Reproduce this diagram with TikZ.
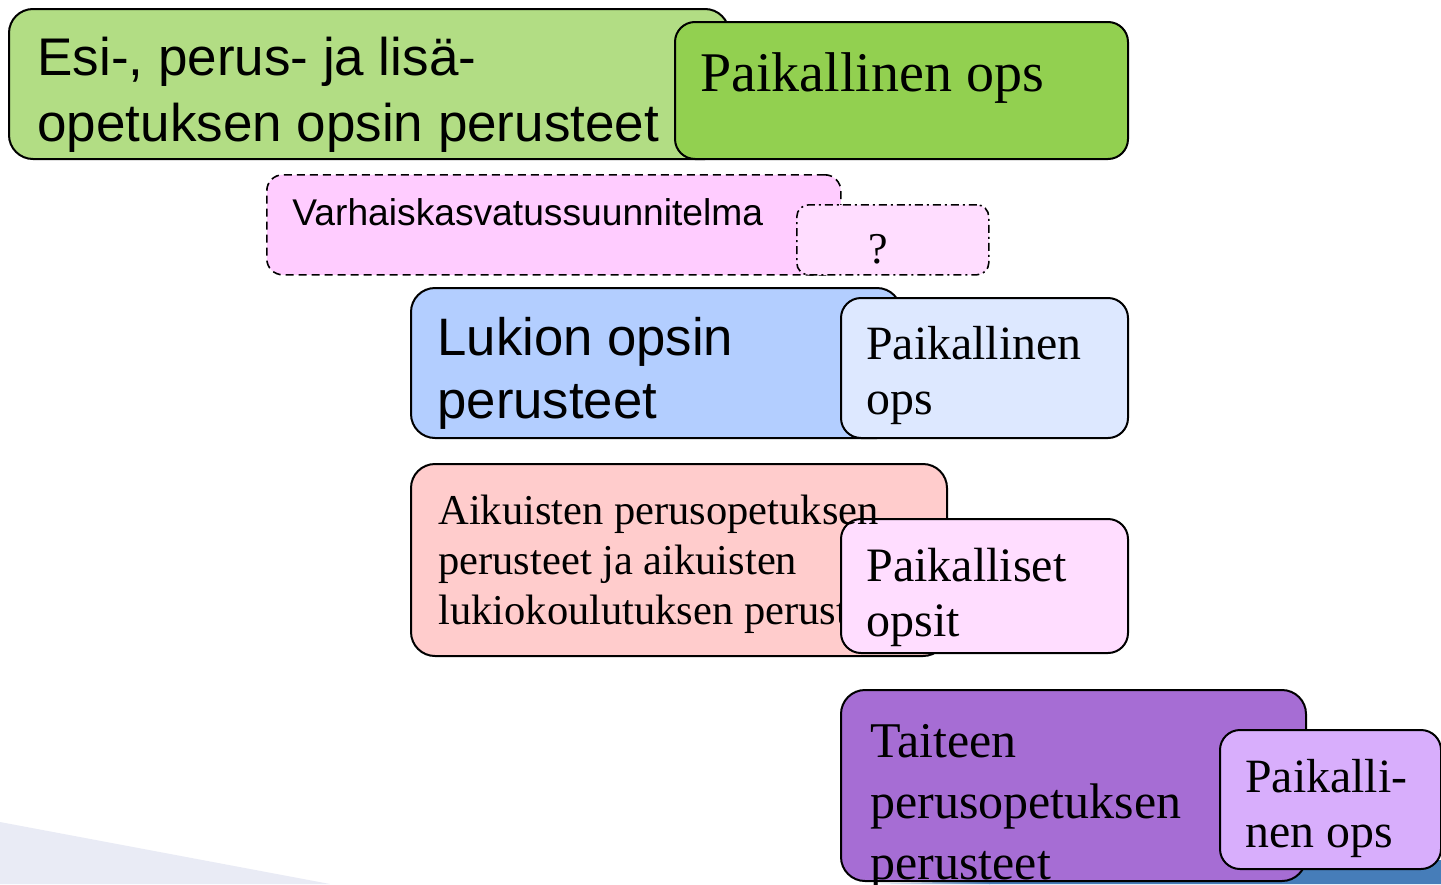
\documentclass[tikz,border=0pt]{standalone}
\usepackage{fontspec}
\setmainfont{Liberation Serif}
\setsansfont{Liberation Sans}
\usetikzlibrary{positioning}
\definecolor{cgA}{HTML}{B2DD84}
\definecolor{cgB}{HTML}{92D050}
\definecolor{cpA}{HTML}{FFCCFF}
\definecolor{cpB}{HTML}{FFDDFF}
\definecolor{cbA}{HTML}{B3CEFF}
\definecolor{cbB}{HTML}{DDE8FF}
\definecolor{csal}{HTML}{FFCCCC}
\definecolor{cuA}{HTML}{A66DD4}
\definecolor{cuB}{HTML}{D8AEFC}
\definecolor{cband}{HTML}{467DB9}
\definecolor{cwedge}{HTML}{E9EBF5}
\newcommand{\mlines}[1]{\begin{tabular}[t]{@{}l@{}}#1\end{tabular}}
\newcommand{\fsz}[2]{\fontsize{#1}{#2}\selectfont}
\begin{document}
\begin{tikzpicture}[x=0.5pt,y=-0.5pt,
  box/.style={draw=black, line width=1pt, rounded corners=12pt, inner sep=0pt, anchor=north west},
  sbox/.style={box, rounded corners=10pt},
  lbl/.style={inner sep=0pt, anchor=base west, text=black}]
\useasboundingbox (0,0) rectangle (1441,884);
% background decorations
\fill[cwedge] (0,822) -- (330,884) -- (0,884) -- cycle;
\shade[left color=white, right color=cband] (860,884) .. controls (900,883) and (940,882) .. (990,881) -- (990,884) -- cycle;
\fill[cband] (989,881) .. controls (1150,876) and (1300,866) .. (1441,860) -- (1441,884) -- (989,884) -- cycle;
% row 1
\node[box, fill=cgA, minimum width=360pt, minimum height=75pt] (b1) at (8,8) {};
\node[lbl, font=\sffamily\fsz{26.5pt}{33pt}] (t1) at (37,75) {\mlines{Esi-, perus- ja lisä-\\opetuksen opsin perusteet}};
\node[sbox, fill=cgB, minimum width=226.5pt, minimum height=68.5pt] (b2) at (674,21) {};
\node[lbl, font=\fsz{28pt}{33pt}] (t2) at (700,91) {Paikallinen ops};
% row 2
\node[box, fill=cpA, dash pattern=on 4pt off 2.5pt, line width=0.8pt, rounded corners=8pt, minimum width=287pt, minimum height=50pt] (b3) at (266,174) {};
\node[lbl, font=\sffamily\fsz{18.6pt}{22pt}] (t3) at (292,225) {Varhaiskasvatussuunnitelma};
\node[box, fill=cpB, dash pattern=on 4pt off 2pt on 1pt off 2pt, line width=0.8pt, rounded corners=6pt, minimum width=96pt, minimum height=35pt] (b4) at (796,204) {};
\node[inner sep=0pt, anchor=base, font=\fsz{22pt}{26pt}] (t4) at (878,263) {?};
% row 3
\node[box, fill=cbA, minimum width=245pt, minimum height=75pt] (b5) at (410,287) {};
\node[lbl, font=\sffamily\fsz{26.35pt}{31.5pt}] (t5) at (437,355) {\mlines{Lukion opsin\\perusteet}};
\node[sbox, fill=cbB, minimum width=143.5pt, minimum height=70pt] (b6) at (840,297) {};
\node[lbl, font=\fsz{23.9pt}{27.5pt}] (t6) at (866,359) {\mlines{Paikallinen\\ops}};
% row 4
\node[box, fill=csal, minimum width=268pt, minimum height=96pt] (b7) at (410,463) {};
\node[lbl, font=\fsz{21.25pt}{25pt}] (t7b) at (438,574) {\mlines{perusteet ja aikuisten\\lukiokoulutuksen perusteet}};
\node[sbox, fill=cpB, minimum width=143.5pt, minimum height=67pt] (b8) at (840,518) {};
\node[lbl, font=\fsz{21.25pt}{25pt}] (t7a) at (438,524) {Aikuisten perusopetuksen};
\node[lbl, font=\fsz{24pt}{27.5pt}] (t8) at (866,581) {\mlines{Paikalliset\\opsit}};
% row 5
\node[box, fill=cuA, minimum width=232.5pt, minimum height=95.5pt] (b9) at (840,689) {};
\node[lbl, font=\fsz{25pt}{30.5pt}] (t9) at (870,757) {\mlines{Taiteen\\perusopetuksen\\perusteet}};
\node[sbox, fill=cuB, minimum width=110.5pt, minimum height=69.5pt] (b10) at (1219,729) {};
\node[lbl, font=\fsz{23.9pt}{27.5pt}] (t10) at (1245,792) {\mlines{Paikalli-\\nen ops}};
\end{tikzpicture}
\end{document}
